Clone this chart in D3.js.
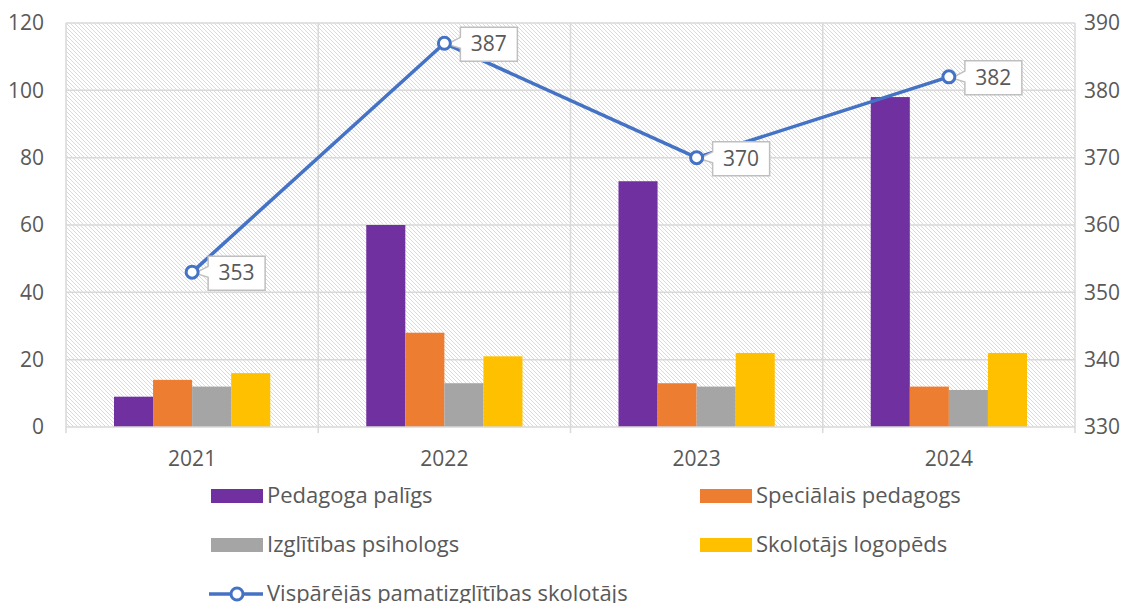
<!DOCTYPE html>
<html>
<head>
<meta charset="utf-8">
<script src="https://d3js.org/d3.v7.min.js"></script>
<style>
  body { margin: 0; background: #fff; }
  text { font-family: "Open Sans", "Noto Sans", sans-serif; fill: #595959; }
</style>
</head>
<body>
<svg id="chart" width="1139" height="603"></svg>
<script>
const years = ["2021", "2022", "2023", "2024"];
const barSeries = ["Pedagoga palīgs", "Speciālais pedagogs", "Izglītības psihologs", "Skolotājs logopēds"];
const pedagogaPaligs = [9, 60, 73, 98];
const specialaisPedagogs = [14, 28, 13, 12];
const izglitibasPsihologs = [12, 13, 12, 11];
const skolotajsLogopeds = [16, 21, 22, 22];
const lineName = "Vispārējās pamatizglītības skolotājs";
const skolotajs = [353, 387, 370, 382];
const leftTicks = [0, 20, 40, 60, 80, 100, 120];
const rightTicks = [330, 340, 350, 360, 370, 380, 390];

const colors = ["#7030A0", "#ED7D31", "#A5A5A5", "#FFC000"];
const lineColor = "#4472C4";
const barValues = [pedagogaPaligs, specialaisPedagogs, izglitibasPsihologs, skolotajsLogopeds];

const svg = d3.select("#chart");
const margins = { top: 23, left: 66, right: 1139 - 1075, bottom: 603 - 427 };
const chartWidth = 1139 - margins.left - margins.right;
const chartHeight = 603 - margins.top - margins.bottom;

// hatch pattern for plot background
const defs = svg.append("defs");
const pat = defs.append("pattern")
  .attr("id", "hatch")
  .attr("patternUnits", "userSpaceOnUse")
  .attr("width", 4).attr("height", 4);
pat.append("path")
  .attr("d", "M-1,-1 L5,5 M-1,3 L1,5 M3,-1 L5,1")
  .attr("stroke", "#dadada")
  .attr("stroke-width", 1);

const chart = svg.append("g").attr("transform", `translate(${margins.left},${margins.top})`);

const x = d3.scaleBand().domain(years).range([0, chartWidth]);
const xInner = d3.scaleBand().domain(barSeries)
  .range([48, x.bandwidth() - 48]);
const yLeft = d3.scaleLinear().domain([0, 120]).range([chartHeight, 0]);
const yRight = d3.scaleLinear().domain([330, 390]).range([chartHeight, 0]);

chart.append("rect")
  .attr("width", chartWidth).attr("height", chartHeight)
  .attr("fill", "url(#hatch)");

// horizontal gridlines
chart.selectAll("line.hgrid").data(leftTicks.slice(1))
  .join("line")
  .attr("class", "hgrid")
  .attr("x1", 0).attr("x2", chartWidth)
  .attr("y1", d => yLeft(d)).attr("y2", d => yLeft(d))
  .attr("stroke", "#d9d9d9").attr("stroke-width", 1.5);

// vertical gridlines at category borders
const borders = years.map(d => x(d)).concat([chartWidth]);
chart.selectAll("line.vgrid").data(borders)
  .join("line")
  .attr("class", "vgrid")
  .attr("x1", d => d).attr("x2", d => d)
  .attr("y1", 0).attr("y2", chartHeight + 6)
  .attr("stroke", "#d9d9d9").attr("stroke-width", 1.5);

// bars
barSeries.forEach((s, i) => {
  chart.selectAll(`rect.bar${i}`).data(barValues[i])
    .join("rect")
    .attr("class", `bar${i}`)
    .attr("x", (d, j) => x(years[j]) + xInner(s))
    .attr("y", d => yLeft(d))
    .attr("width", xInner.bandwidth())
    .attr("height", d => chartHeight - yLeft(d))
    .attr("fill", colors[i]);
});

// x axis
chart.append("line")
  .attr("x1", 0).attr("x2", chartWidth)
  .attr("y1", chartHeight).attr("y2", chartHeight)
  .attr("stroke", "#d9d9d9").attr("stroke-width", 1.5);

const bottomA = d3.axisBottom(x).tickSize(0).tickPadding(39);
const xAxis = chart.append("g").attr("transform", `translate(0,${chartHeight})`).call(bottomA);
xAxis.select(".domain").remove();
xAxis.selectAll("text").style("font-size", "21px").attr("fill", "#595959").attr("dy", "0");

const leftA = d3.axisLeft(yLeft).tickValues(leftTicks).tickSize(0).tickPadding(22);
const lAxis = chart.append("g").call(leftA);
lAxis.select(".domain").remove();
lAxis.selectAll("text").style("font-size", "21px").attr("fill", "#595959");

const rightA = d3.axisRight(yRight).tickValues(rightTicks).tickSize(0).tickPadding(9);
const rAxis = chart.append("g").attr("transform", `translate(${chartWidth},0)`).call(rightA);
rAxis.select(".domain").remove();
rAxis.selectAll("text").style("font-size", "21px").attr("fill", "#595959");

// line series
const cx = d => x(d) + x.bandwidth() / 2;
const lineGen = d3.line()
  .x((d, i) => cx(years[i]))
  .y(d => yRight(d));
chart.append("path")
  .datum(skolotajs)
  .attr("fill", "none")
  .attr("stroke", lineColor)
  .attr("stroke-width", 3.5)
  .attr("d", lineGen);

// data label callouts
const labels = chart.selectAll("g.lbl").data(skolotajs).join("g").attr("class", "lbl");
labels.append("path")
  .attr("d", (d, i) => {
    const mx = cx(years[i]), my = yRight(d);
    const bx = mx + 16, by = my - 16, w = 57, h = 34;
    return `M${bx},${by} H${bx + w} V${by + h} H${bx} V${by + h * 0.62} L${mx + 3},${my + 1} L${bx},${by + h * 0.3} Z`;
  })
  .attr("fill", "#fff")
  .attr("stroke", "#bfbfbf")
  .attr("stroke-width", 1.5);
labels.append("text")
  .attr("x", (d, i) => cx(years[i]) + 16 + 28.5)
  .attr("y", d => yRight(d) + 8)
  .attr("text-anchor", "middle")
  .style("font-size", "21px")
  .attr("fill", "#404040")
  .text(d => d);

chart.selectAll("circle.pt").data(skolotajs)
  .join("circle")
  .attr("class", "pt")
  .attr("cx", (d, i) => cx(years[i]))
  .attr("cy", d => yRight(d))
  .attr("r", 6)
  .attr("fill", "#fff")
  .attr("stroke", lineColor)
  .attr("stroke-width", 3);

// legend
const legendPos = [[211, 496], [700, 496], [211, 545], [700, 545]];
barSeries.forEach((s, i) => {
  const g = svg.append("g").attr("transform", `translate(${legendPos[i][0]},${legendPos[i][1]})`);
  g.append("rect").attr("x", 0).attr("y", -7).attr("width", 52).attr("height", 14).attr("fill", colors[i]);
  g.append("text").attr("x", 56).attr("y", 7).style("font-size", "22px").attr("fill", "#595959").text(s);
});
const lg = svg.append("g").attr("transform", "translate(209,594)");
lg.append("line").attr("x1", 0).attr("x2", 54).attr("y1", 0).attr("y2", 0)
  .attr("stroke", lineColor).attr("stroke-width", 3.5);
lg.append("circle").attr("cx", 28).attr("cy", 0).attr("r", 6)
  .attr("fill", "#fff").attr("stroke", lineColor).attr("stroke-width", 3);
lg.append("text").attr("x", 58).attr("y", 7).style("font-size", "22px").attr("fill", "#595959").text(lineName);
</script>
</body>
</html>
